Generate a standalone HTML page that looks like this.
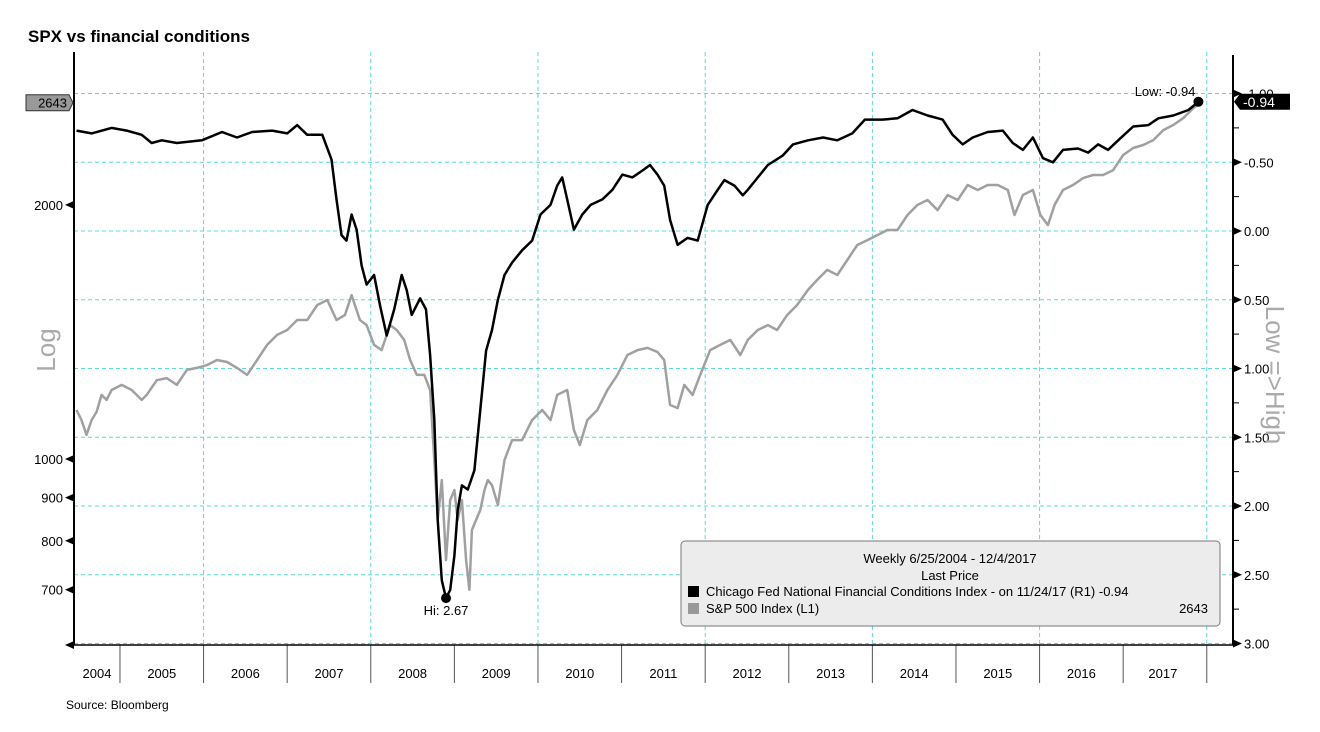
<!DOCTYPE html>
<html><head><meta charset="utf-8"><style>
body{margin:0;background:#fff;}
svg{display:block;font-family:"Liberation Sans",sans-serif;}
</style></head><body>
<svg id="chart" width="1320" height="732" viewBox="0 0 1320 732">
<text x="28" y="42" font-size="17" font-weight="bold">SPX vs financial conditions</text>
<g id="grid"></g>
<g id="axes"></g>
<g id="series"></g>
<text transform="translate(55,350) rotate(-90)" font-size="26" fill="#aaa" text-anchor="middle">Log</text>
<text transform="translate(1266,375) rotate(90)" font-size="26" fill="#aaa" text-anchor="middle">Low =&gt;High</text>
<g>
<rect x="681" y="541" width="539" height="85" rx="4" fill="#ececec" stroke="#777"/>
<text x="950" y="563" font-size="13" text-anchor="middle">Weekly 6/25/2004 - 12/4/2017</text>
<text x="950" y="580" font-size="13" text-anchor="middle">Last Price</text>
<rect x="688" y="586" width="11" height="11" fill="#000"/>
<text x="706" y="596" font-size="13">Chicago Fed National Financial Conditions Index -  on 11/24/17  (R1) -0.94</text>
<rect x="688" y="603" width="11" height="11" fill="#999"/>
<text x="706" y="613" font-size="13">S&amp;P 500 Index  (L1)</text>
<text x="1208" y="613" font-size="13" text-anchor="end">2643</text>
</g>
<text x="66" y="709" font-size="12">Source: Bloomberg</text>
</svg>
<script>
const nfciDates=[2004.48,2004.66,2004.90,2005.08,2005.26,2005.38,2005.50,2005.68,2005.98,2006.22,2006.40,2006.58,2006.82,2007.00,2007.12,2007.24,2007.42,2007.53,2007.59,2007.65,2007.71,2007.77,2007.83,2007.89,2007.95,2008.04,2008.11,2008.19,2008.28,2008.37,2008.43,2008.49,2008.59,2008.66,2008.71,2008.76,2008.80,2008.85,2008.90,2008.95,2009.00,2009.04,2009.09,2009.16,2009.24,2009.31,2009.38,2009.45,2009.52,2009.60,2009.69,2009.81,2009.93,2010.03,2010.15,2010.23,2010.29,2010.35,2010.43,2010.53,2010.63,2010.77,2010.89,2011.01,2011.13,2011.25,2011.34,2011.43,2011.51,2011.58,2011.67,2011.79,2011.91,2012.03,2012.15,2012.23,2012.35,2012.45,2012.51,2012.59,2012.75,2012.93,2013.05,2013.23,2013.41,2013.58,2013.76,2013.91,2014.12,2014.30,2014.48,2014.66,2014.84,2014.96,2015.08,2015.20,2015.38,2015.56,2015.68,2015.80,2015.92,2016.04,2016.16,2016.28,2016.46,2016.58,2016.70,2016.82,2016.94,2017.12,2017.30,2017.42,2017.60,2017.78,2017.90];
const nfciValues=[-0.73,-0.71,-0.75,-0.73,-0.70,-0.64,-0.66,-0.64,-0.66,-0.72,-0.68,-0.72,-0.73,-0.71,-0.77,-0.70,-0.70,-0.52,-0.23,0.03,0.07,-0.12,-0.01,0.25,0.39,0.32,0.54,0.76,0.57,0.32,0.43,0.61,0.49,0.57,0.90,1.37,2.10,2.54,2.67,2.61,2.36,2.03,1.85,1.88,1.74,1.30,0.87,0.72,0.50,0.32,0.23,0.14,0.07,-0.12,-0.19,-0.33,-0.39,-0.23,-0.01,-0.12,-0.19,-0.23,-0.30,-0.41,-0.39,-0.44,-0.48,-0.41,-0.33,-0.08,0.10,0.05,0.07,-0.19,-0.30,-0.37,-0.33,-0.26,-0.30,-0.36,-0.48,-0.55,-0.63,-0.66,-0.68,-0.66,-0.71,-0.81,-0.81,-0.82,-0.88,-0.84,-0.81,-0.70,-0.63,-0.68,-0.72,-0.73,-0.64,-0.59,-0.68,-0.53,-0.50,-0.59,-0.60,-0.57,-0.63,-0.59,-0.66,-0.76,-0.77,-0.82,-0.84,-0.88,-0.94];
const spxDates=[2004.48,2004.54,2004.60,2004.66,2004.72,2004.78,2004.84,2004.90,2005.02,2005.14,2005.26,2005.32,2005.44,2005.56,2005.68,2005.80,2005.92,2006.04,2006.16,2006.28,2006.40,2006.52,2006.64,2006.76,2006.88,2007.00,2007.12,2007.24,2007.36,2007.48,2007.59,2007.69,2007.77,2007.87,2007.95,2008.04,2008.13,2008.23,2008.31,2008.40,2008.47,2008.55,2008.64,2008.71,2008.76,2008.80,2008.85,2008.90,2008.95,2009.00,2009.04,2009.09,2009.14,2009.18,2009.21,2009.26,2009.31,2009.36,2009.40,2009.45,2009.52,2009.60,2009.69,2009.81,2009.93,2010.05,2010.15,2010.23,2010.35,2010.43,2010.50,2010.59,2010.71,2010.83,2010.95,2011.07,2011.19,2011.31,2011.43,2011.51,2011.58,2011.67,2011.75,2011.85,2011.94,2012.06,2012.18,2012.30,2012.42,2012.51,2012.63,2012.75,2012.86,2012.98,2013.10,2013.23,2013.34,2013.46,2013.58,2013.70,2013.82,2013.94,2014.06,2014.18,2014.30,2014.42,2014.54,2014.66,2014.78,2014.90,2015.02,2015.14,2015.26,2015.38,2015.50,2015.62,2015.70,2015.80,2015.92,2016.01,2016.10,2016.18,2016.28,2016.40,2016.52,2016.64,2016.76,2016.88,2017.00,2017.12,2017.24,2017.36,2017.48,2017.60,2017.72,2017.84,2017.93];
const spxValues=[1143,1112,1068,1112,1137,1191,1175,1207,1224,1207,1175,1191,1240,1247,1224,1275,1282,1292,1310,1303,1282,1258,1310,1365,1403,1422,1461,1461,1522,1543,1461,1481,1564,1461,1441,1365,1346,1441,1422,1384,1310,1258,1258,1207,997,847,944,759,894,919,847,894,759,700,824,847,870,919,944,931,882,997,1053,1053,1112,1143,1112,1191,1207,1082,1039,1112,1143,1207,1258,1328,1346,1354,1339,1310,1159,1149,1224,1191,1258,1346,1365,1384,1328,1384,1422,1441,1422,1481,1522,1586,1630,1675,1652,1721,1793,1817,1842,1868,1868,1946,2000,2027,1972,2055,2027,2112,2083,2112,2112,2083,1946,2055,2083,1946,1893,2000,2083,2112,2152,2170,2170,2199,2292,2336,2355,2387,2453,2487,2535,2605,2643];
const leftTicks=[700,800,900,1000,2000];
const rightTicks=[-1.00,-0.50,0.00,0.50,1.00,1.50,2.00,2.50,3.00];
const yearLabels=[2004,2005,2006,2007,2008,2009,2010,2011,2012,2013,2014,2015,2016,2017];

const NS='http://www.w3.org/2000/svg';
const X0=74,X1=1233,Y0=52,Y1=645;
const T0=2004.45,PXY=83.6;
function xs(t){return X0+(t-T0)*PXY;}
function yl(v){return 459-844*Math.log10(v/1000);}
function yr(v){return 231+v*137.5;}
function mk(tag,attrs,parent){const e=document.createElementNS(NS,tag);for(const k in attrs)e.setAttribute(k,attrs[k]);parent.appendChild(e);return e;}
const grid=document.getElementById('grid'),axes=document.getElementById('axes'),series=document.getElementById('series');

rightTicks.forEach(v=>{
  const y=yr(v);
  const g=mk('line',{x1:X0,x2:X1,y1:y,y2:y,stroke:'#5fd8d8','stroke-dasharray':'4,3','stroke-width':1},grid);
  
  
  const tk=mk('path',{d:`M${X1},${y-4} l9,4 l-9,4 z`,fill:'#000'},axes);
  
  
  const lb=mk('text',{x:X1+11,y:y+5,'font-size':13},axes);
  lb.textContent=v.toFixed(2);
  
  
});
for(let i=0;i<rightTicks.length-1;i++){
  const y=yr((rightTicks[i]+rightTicks[i+1])/2);
  const m=mk('line',{x1:X1,x2:X1+6,y1:y,y2:y,stroke:'#000'},axes);
  
  
}
leftTicks.forEach(v=>{
  const y=yl(v);
  const tk=mk('path',{d:`M${X0},${y-4} l-9,4 l9,4 z`,fill:'#000'},axes);
  
  
  const lb=mk('text',{x:X0-11,y:y+5,'font-size':13,'text-anchor':'end'},axes);
  lb.textContent=v;
  
  
});
{const y=Y1;const tk=mk('path',{d:`M${X0},${y-4} l-9,4 l9,4 z`,fill:'#000'},axes);}
yearLabels.forEach(yv=>{
  const a=Math.max(T0,yv),b=Math.min(2017.95,yv+1);
  if(yv>=2005){
    const x=xs(yv);
    const t=mk('line',{x1:x,x2:x,y1:Y1,y2:683,stroke:'#555'},axes);
    
    
    if(yv%2===0){
      const g=mk('line',{x1:x,x2:x,y1:Y0,y2:Y1,stroke:'#5fd8d8','stroke-dasharray':'4,3'},grid);
      
      
    }
  }
  const lb=mk('text',{x:(xs(a)+xs(b))/2,y:678,'font-size':13,'text-anchor':'middle'},axes);
  lb.textContent=yv;
  
  
});
{const x=xs(2018);const t=mk('line',{x1:x,x2:x,y1:Y1,y2:683,stroke:'#555'},axes);
const g=mk('line',{x1:x,x2:x,y1:Y0,y2:Y1,stroke:'#5fd8d8','stroke-dasharray':'4,3'},grid);}
const la=mk('line',{x1:X0,x2:X0,y1:Y0,y2:Y1,stroke:'#000','stroke-width':2},axes);


const ra=mk('line',{x1:X1,x2:X1,y1:55,y2:Y1,stroke:'#000','stroke-width':2},axes);


const ba=mk('line',{x1:X0,x2:X1,y1:Y1,y2:Y1,stroke:'#000','stroke-width':1.5},axes);



const sp=mk('polyline',{points:spxDates.map((d,i)=>xs(d).toFixed(1)+','+yl(spxValues[i]).toFixed(1)).join(' '),fill:'none',stroke:'#a0a0a0','stroke-width':2.5,'stroke-linejoin':'round'},series);


const nf=mk('polyline',{points:nfciDates.map((d,i)=>xs(d).toFixed(1)+','+yr(nfciValues[i]).toFixed(1)).join(' '),fill:'none',stroke:'#000','stroke-width':2.5,'stroke-linejoin':'round'},series);



let hi=0,lo=0;nfciValues.forEach((v,i)=>{if(v>nfciValues[hi])hi=i;if(v<nfciValues[lo])lo=i;});
const hx=xs(nfciDates[hi]),hy=yr(nfciValues[hi]);
const hd=mk('circle',{cx:hx,cy:hy,r:5,fill:'#000'},series);


const ht=mk('text',{x:hx,y:hy+17,'font-size':13,'text-anchor':'middle'},series);
ht.textContent='Hi: '+nfciValues[hi].toFixed(2);


const lx=xs(nfciDates[lo]),ly=yr(nfciValues[lo]);
const ld=mk('circle',{cx:lx,cy:ly,r:5,fill:'#000'},series);


const lt=mk('text',{x:lx-3,y:ly-6,'font-size':13,'text-anchor':'end'},series);
lt.textContent='Low: '+nfciValues[lo].toFixed(2);



const lastN=nfciValues[nfciValues.length-1],yN=yr(lastN);
const rb=mk('path',{d:`M${X1+1},${yN} l6,-8 h50 v16 h-50 z`,fill:'#000'},axes);


const rt=mk('text',{x:X1+10,y:yN+5,'font-size':14,fill:'#fff'},axes);
rt.textContent=lastN.toFixed(2);


const lastS=spxValues[spxValues.length-1],yS=yl(lastS);
const lb2=mk('path',{d:`M${X0-1},${yS} l-4,-8 h-43 v16 h43 z`,fill:'#999',stroke:'#333'},axes);


const lt2=mk('text',{x:X0-7,y:yS+5,'font-size':13,'text-anchor':'end'},axes);
lt2.textContent=lastS;


</script>
</body></html>
